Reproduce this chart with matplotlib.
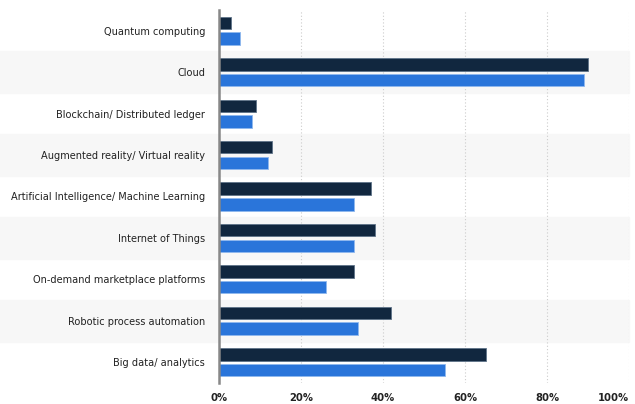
import matplotlib
matplotlib.use("Agg")
import matplotlib.pyplot as plt
import numpy as np

categories = ["Quantum computing", "Cloud", "Blockchain/ Distributed ledger",
              "Augmented reality/ Virtual reality", "Artificial Intelligence/ Machine Learning",
              "Internet of Things", "On-demand marketplace platforms",
              "Robotic process automation", "Big data/ analytics"]
series_dark = [3, 90, 9, 13, 37, 38, 33, 42, 65]
series_blue = [5, 89, 8, 12, 33, 33, 26, 34, 55]
xticks = [0, 20, 40, 60, 80, 100]
xtick_labels = ["0%", "20%", "40%", "60%", "80%", "100%"]

plt.rcParams['font.family'] = ["DejaVu Sans"]
plt.rcParams['font.stretch'] = "condensed"

fig = plt.figure(figsize=(6.35, 4.04), dpi=100)
ax = fig.add_axes([219/635, 1-383/404, 410/635, 373/404])

n = len(categories)
y = np.arange(n)
h = 0.30
gap = 0.04
ax.barh(y - gap - h/2, series_dark, height=h, color="#11273f", edgecolor="#5f7389", linewidth=0.6, zorder=3)
ax.barh(y + gap + h/2, series_blue, height=h, color="#2a75da", edgecolor="#8fb8ee", linewidth=0.6, zorder=3)

for i in range(n):
    if i % 2 == 1:
        ax.axhspan(i - 0.5, i + 0.5, xmin=-0.55, xmax=1, color="#f7f7f7", zorder=0, clip_on=False)

ax.set_ylim(n - 0.5, -0.5)
ax.set_xlim(0, 100)
ax.set_yticks(y)
ax.set_yticklabels(categories, fontsize=7.8, color="#222222", fontstretch="condensed")
ax.set_xticks(xticks)
ax.set_xticklabels(xtick_labels, fontsize=8, color="#222222", fontweight="bold", fontstretch="condensed")
ax.get_xticklabels()[-1].set_horizontalalignment("right")
ax.tick_params(axis="both", length=0)
ax.tick_params(axis="y", pad=10)
ax.tick_params(axis="x", pad=7)
ax.xaxis.grid(True, linestyle=(0, (1, 2)), color="#cccccc", linewidth=0.8, zorder=1)
ax.set_axisbelow(True)
for s in ["top", "right", "bottom"]:
    ax.spines[s].set_visible(False)
ax.spines["left"].set_color("#888888")
ax.spines["left"].set_linewidth(1.8)
ax.spines["left"].set_zorder(4)

fig.savefig("out.png", dpi=100)
